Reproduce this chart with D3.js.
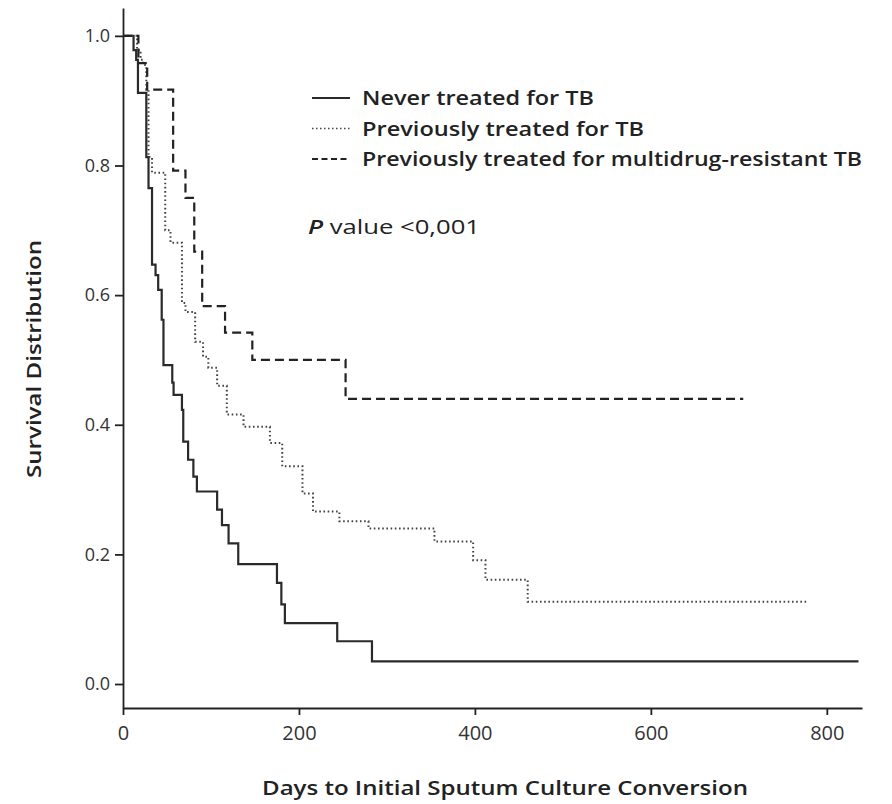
<!DOCTYPE html>
<html>
<head>
<meta charset="utf-8">
<script src="https://cdn.jsdelivr.net/npm/d3@7"></script>
<style>
body { margin: 0; background: #fff; }
svg { font-family: "Open Sans", "Noto Sans", sans-serif; }
.axis path, .axis line { stroke: #222; stroke-width: 1.8; }
.axis text { fill: #333; }
.curve { fill: none; }
.title { font-size: 20px; font-weight: 600; fill: #222; }
.legend { font-size: 20.5px; font-weight: 600; fill: #222; }
</style>
</head>
<body>
<script>
const width = 892, height = 804;
const plotLeft = 123, plotRight = 862, plotTop = 8, plotBottom = 708;

// x ticks / y ticks
const xTicks = [0, 200, 400, 600, 800];
const yTicks = [0, 0.2, 0.4, 0.6, 0.8, 1.0];

// Never treated for TB: step times (days) and survival after each step
const neverDays = [0, 12, 15, 17, 26.5, 29, 33, 37, 40, 44, 46, 56, 57.5, 67, 68.5, 74, 80, 84, 107, 112.5, 120, 131, 175, 180, 184, 243.5, 283, 836];
const neverSurv = [1, 0.978, 0.963, 0.912, 0.813, 0.765, 0.647, 0.631, 0.608, 0.562, 0.492, 0.465, 0.446, 0.423, 0.374, 0.346, 0.320, 0.297, 0.269, 0.245, 0.217, 0.185, 0.156, 0.123, 0.094, 0.066, 0.035, 0.035];

// Previously treated for TB
const prevDays = [0, 16, 20, 23, 26.5, 29, 33, 48, 54, 67, 71, 82, 91, 97, 107, 118, 137, 167, 181, 204, 216, 246, 279, 354, 398, 412, 460, 778];
const prevSurv = [1, 0.978, 0.963, 0.955, 0.917, 0.813, 0.789, 0.70, 0.681, 0.588, 0.574, 0.528, 0.505, 0.488, 0.460, 0.416, 0.397, 0.372, 0.336, 0.294, 0.266, 0.251, 0.240, 0.220, 0.191, 0.161, 0.127, 0.127];

// Previously treated for multidrug-resistant TB
const mdrDays = [0, 17.5, 27.5, 57, 71, 81, 90, 116, 147, 253, 705];
const mdrSurv = [1, 0.958, 0.917, 0.792, 0.75, 0.667, 0.583, 0.542, 0.5, 0.44, 0.44];

const legendLabels = ["Never treated for TB", "Previously treated for TB", "Previously treated for multidrug-resistant TB"];
const legendWidths = [232, 282, 500];

const svg = d3.select("body").append("svg")
.attr("width", width)
.attr("height", height);

const scaleX = d3.scaleLinear()
.domain([0, 840])
.range([plotLeft, plotRight]);

const scaleY = d3.scaleLinear()
.domain([-0.037, 1.043])
.range([plotBottom, plotTop]);

const axisX = d3.axisBottom(scaleX).tickValues(xTicks).tickSize(7).tickSizeOuter(0).tickPadding(11);
const axisY = d3.axisLeft(scaleY).tickValues(yTicks).tickSize(8).tickSizeOuter(0).tickPadding(5)
.tickFormat(d3.format(".1f"));

svg.append("g")
.attr("class", "axis")
.attr("transform", `translate(0, ${plotBottom})`)
.call(axisX)
.attr("font-size", 20)
.attr("font-family", null);

svg.append("g")
.attr("class", "axis")
.attr("transform", `translate(${plotLeft}, 0)`)
.call(axisY)
.attr("font-size", 18)
.attr("font-family", null);

const line = d3.line()
.curve(d3.curveStepAfter)
.x((d) => scaleX(d[0]))
.y((d) => scaleY(d[1]));

const styles = [
    {stroke: "#2a2a2a", width: 2.2, dash: null},
    {stroke: "#444", width: 2, dash: "1.6,2.6"},
    {stroke: "#222", width: 2.2, dash: "9,5"}
];

const groups = [
    d3.zip(neverDays, neverSurv),
    d3.zip(prevDays, prevSurv),
    d3.zip(mdrDays, mdrSurv)
];

groups.forEach((pts, i) => {
    svg.append("path")
    .attr("class", "curve")
    .attr("d", line(pts))
    .attr("stroke", styles[i].stroke)
    .attr("stroke-width", styles[i].width)
    .attr("stroke-dasharray", styles[i].dash);
});

// legend
const lg = svg.append("g");
legendLabels.forEach((t, i) => {
    const y = 98 + i * 30.5;
    lg.append("line")
    .attr("x1", 312).attr("x2", 350)
    .attr("y1", y).attr("y2", y)
    .attr("stroke", styles[i].stroke)
    .attr("stroke-width", i == 1 ? 1.6 : 1.8)
    .attr("stroke-dasharray", i == 0 ? null : (i == 1 ? "1.5,2.5" : "6,3.5"));
    lg.append("text")
    .attr("class", "legend")
    .attr("x", 362)
    .attr("y", y + 7)
    .attr("textLength", legendWidths[i])
    .attr("lengthAdjust", "spacingAndGlyphs")
    .text(t);
});

const pv = lg.append("text")
.attr("class", "legend")
.attr("x", 308)
.attr("y", 234)
.attr("textLength", 172)
.attr("lengthAdjust", "spacingAndGlyphs");
pv.append("tspan").attr("font-style", "italic").text("P");
pv.append("tspan").attr("font-weight", 400).text(" value <0,001");

svg.append("text")
.attr("class", "title")
.attr("x", 262)
.attr("y", 795)
.attr("textLength", 486)
.attr("lengthAdjust", "spacingAndGlyphs")
.text("Days to Initial Sputum Culture Conversion");

svg.append("text")
.attr("class", "title")
.attr("transform", "translate(41, 478) rotate(-90)")
.attr("textLength", 238)
.attr("lengthAdjust", "spacingAndGlyphs")
.text("Survival Distribution");
</script>
</body>
</html>
